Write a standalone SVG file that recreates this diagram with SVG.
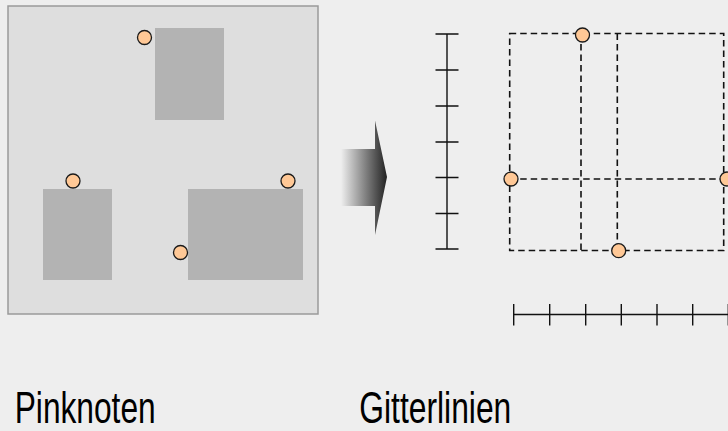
<svg xmlns="http://www.w3.org/2000/svg" width="728" height="431" viewBox="0 0 728 431">
<style>
.obst{fill:#b3b3b3;stroke:none}
.pin{fill:#ffc896;stroke:#1a1a1a;stroke-width:1.3}
.grid{fill:none;stroke:#111;stroke-width:1.6;stroke-dasharray:6.5,4}
.ruler{fill:none;stroke:#111;stroke-width:1.4}
.lbl{font-family:"Liberation Sans",Arial,sans-serif;font-size:44px;fill:#000}
</style>
<defs>
<linearGradient id="ag" x1="341" y1="0" x2="387" y2="0" gradientUnits="userSpaceOnUse">
<stop offset="0" stop-color="#eeeeee"/>
<stop offset="0.75" stop-color="#555555"/>
<stop offset="1" stop-color="#222222"/>
</linearGradient>
</defs>
<rect width="728" height="431" fill="#eeeeee"/>
<g id="pinknoten-panel">
<rect x="8" y="6" width="310" height="308" fill="#dedede" stroke="#9a9a9a" stroke-width="1.5"/>
<rect class="obst" x="155" y="28" width="69" height="92"/>
<rect class="obst" x="43" y="189" width="69" height="91"/>
<rect class="obst" x="188" y="189" width="115" height="91"/>
<circle class="pin" cx="144.5" cy="37.5" r="7"/>
<circle class="pin" cx="73" cy="181" r="7"/>
<circle class="pin" cx="288" cy="181" r="7"/>
<circle class="pin" cx="180.5" cy="252.5" r="7"/>
</g>
<g id="arrow">
<path d="M341,149 H375 V120.5 L387,177 L375,235 V206 H341 Z" fill="url(#ag)"/>
</g>
<g id="connectors">
<g id="v-ruler" class="ruler">
<path d="M447,34 V249 M435.5,34 H458.5 M435.5,70 H458.5 M435.5,106 H458.5 M435.5,142 H458.5 M435.5,177.5 H458.5 M435.5,213.5 H458.5 M435.5,249 H458.5"/>
</g>
<g id="h-ruler" class="ruler">
<path d="M513.7,314.5 H728 M513.7,304 V325.5 M549.7,304 V325.5 M585.7,304 V325.5 M621.3,304 V325.5 M657,304 V325.5 M692.7,304 V325.5 M728.3,304 V325.5"/>
</g>
<g id="gridlines" class="grid">
<rect x="509.7" y="33.5" width="214" height="217"/>
<line x1="581" y1="33.5" x2="581" y2="250.5"/>
<line x1="617.3" y1="33.5" x2="617.3" y2="250.5"/>
<line x1="509.7" y1="179" x2="723.7" y2="179"/>
</g>
</g>
<g id="grid-pins">
<circle class="pin" cx="582.5" cy="35" r="7"/>
<circle class="pin" cx="511" cy="179" r="7"/>
<circle class="pin" cx="618.7" cy="250.7" r="7"/>
<circle class="pin" cx="727" cy="179" r="7"/>
</g>
<g id="labels">
<text class="lbl" x="14.7" y="423" textLength="141" lengthAdjust="spacingAndGlyphs">Pinknoten</text>
<text class="lbl" x="359.3" y="423" textLength="152" lengthAdjust="spacingAndGlyphs">Gitterlinien</text>
</g>
</svg>
